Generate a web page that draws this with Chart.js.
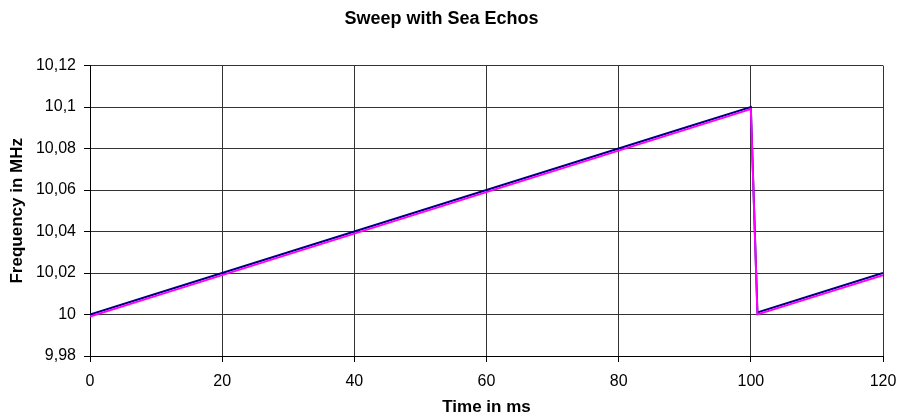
<!DOCTYPE html>
<html lang="en">
<head>
    <meta charset="UTF-8">
    <title>Sweep with Sea Echos</title>
    <style>
        body {
            margin: 0;
            background: #fff;
        }
        .chart-container {
            width: 898px;
            height: 414px;
        }
    </style>
</head>
<body>
    <div class="chart-container">
        <canvas id="myChart" width="898" height="414"></canvas>
    </div>

    <script src="https://cdn.jsdelivr.net/npm/chart.js@4.4.0/dist/chart.umd.min.js"></script>
    <script>
        // Data
        const timeMs = [0, 10, 20, 30, 40, 50, 60, 70, 80, 90, 100, 101, 110, 120];
        const sweep = [10.000, 10.010, 10.020, 10.030, 10.040, 10.050, 10.060, 10.070, 10.080, 10.090, 10.100, 10.001, 10.010, 10.020];
        const echo = [9.999, 10.009, 10.019, 10.029, 10.039, 10.049, 10.059, 10.069, 10.079, 10.089, 10.099, 10.000, 10.009, 10.019];
        const xTicks = [0, 20, 40, 60, 80, 100, 120];
        const yTicks = [9.98, 10.00, 10.02, 10.04, 10.06, 10.08, 10.10, 10.12];

        const fontFamily = '"Liberation Sans", Arial, sans-serif';

        function toPoints(values) {
            return values.map(function (v, i) { return { x: timeMs[i], y: v }; });
        }

        function commaLabel(v) {
            return String(Number(v.toFixed(2))).replace('.', ',');
        }

        const ctx = document.getElementById('myChart');

        new Chart(ctx, {
            type: 'line',
            data: {
                datasets: [
                    {
                        label: 'Echo',
                        data: toPoints(echo),
                        borderColor: '#ff00ff',
                        borderWidth: 2,
                        pointRadius: 0,
                        tension: 0
                    },
                    {
                        label: 'Sweep',
                        data: toPoints(sweep),
                        borderColor: '#000080',
                        borderWidth: 2,
                        pointRadius: 0,
                        tension: 0
                    }
                ]
            },
            options: {
                responsive: false,
                animation: false,
                layout: { padding: { left: 0, right: 15, top: 0, bottom: 0 } },
                plugins: {
                    legend: { display: false },
                    tooltip: { enabled: false },
                    title: {
                        display: true,
                        text: 'Sweep with Sea Echos',
                        color: '#000',
                        font: { family: fontFamily, size: 18, weight: 'bold' },
                        padding: { top: 8, bottom: 36 }
                    }
                },
                scales: {
                    x: {
                        type: 'linear',
                        min: 0,
                        max: 120,
                        afterBuildTicks: function (scale) {
                            scale.ticks = xTicks.map(function (v) { return { value: v }; });
                        },
                        afterFit: function (scale) {
                            scale.height = 58;
                            scale.paddingLeft = 0;
                            scale.paddingRight = 0;
                        },
                        grid: { color: '#333', lineWidth: 1, tickLength: 6, tickColor: '#000' },
                        border: { color: '#000', width: 1 },
                        ticks: {
                            color: '#000',
                            padding: 10,
                            maxRotation: 0,
                            font: { family: fontFamily, size: 16 }
                        },
                        title: {
                            display: true,
                            text: 'Time in ms',
                            color: '#000',
                            font: { family: fontFamily, size: 17, weight: 'bold' },
                            padding: { top: 0, bottom: -4 }
                        }
                    },
                    y: {
                        min: 9.98,
                        max: 10.12,
                        afterBuildTicks: function (scale) {
                            scale.ticks = yTicks.map(function (v) { return { value: v }; });
                        },
                        afterFit: function (scale) { scale.width = 90; },
                        grid: { color: '#333', lineWidth: 1, tickLength: 6, tickColor: '#000' },
                        border: { color: '#000', width: 1 },
                        ticks: {
                            color: '#000',
                            padding: 8,
                            font: { family: fontFamily, size: 16 },
                            callback: function (value) { return commaLabel(value); }
                        },
                        title: {
                            display: true,
                            text: 'Frequency in MHz',
                            color: '#000',
                            font: { family: fontFamily, size: 17, weight: 'bold' },
                            padding: { top: 7, bottom: 0 }
                        }
                    }
                }
            }
        });
    </script>
</body>
</html>
